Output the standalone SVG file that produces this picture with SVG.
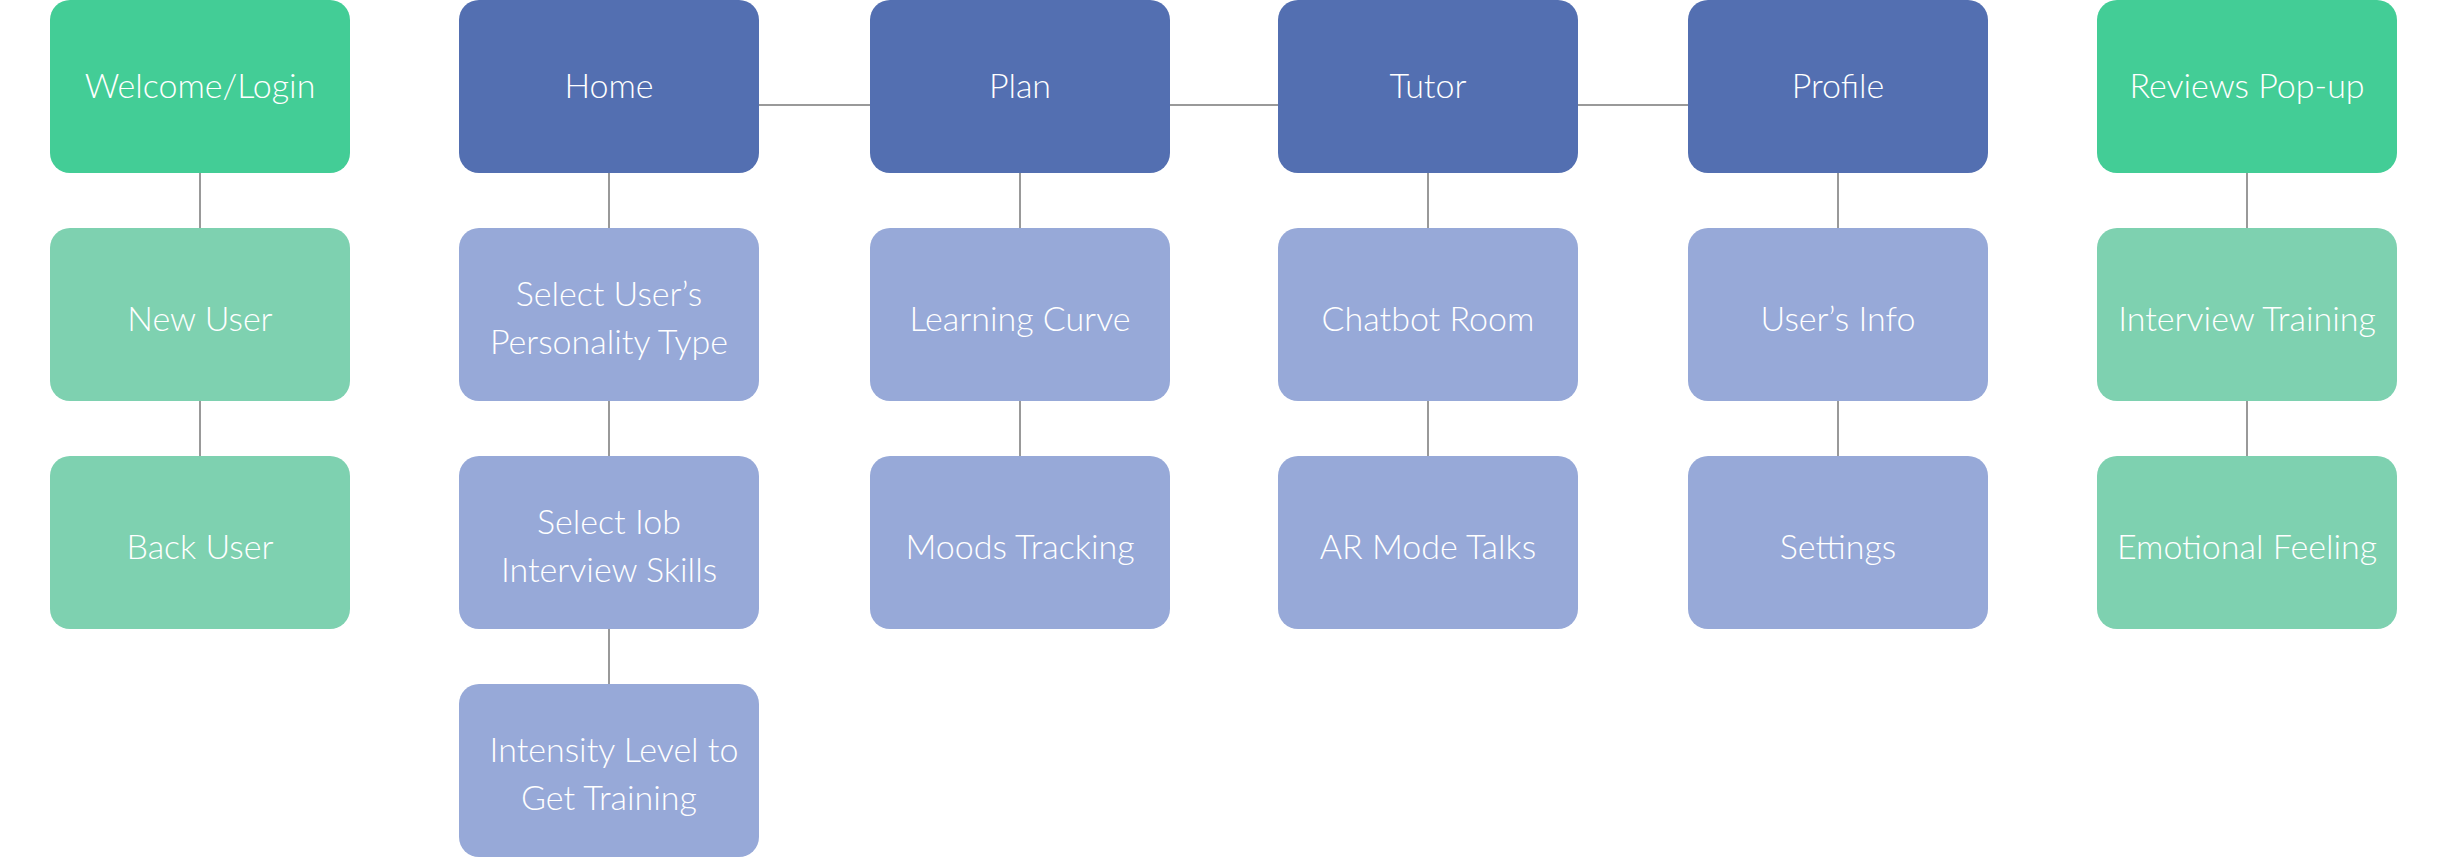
<svg xmlns="http://www.w3.org/2000/svg" width="2450" height="858" viewBox="0 0 2450 858">
<style>
.n rect{rx:20px;ry:20px}
.g1 rect{fill:#43CD96}
.g2 rect{fill:#7ED1B0}
.b1 rect{fill:#536FB1}
.b2 rect{fill:#97A9D8}
text{font-family:Lato,"Open Sans",sans-serif;font-size:34px;font-weight:300;fill:#ffffff;text-anchor:middle}
.c line{stroke:#999999;stroke-width:2}
</style>
<rect width="2450" height="858" fill="#ffffff"/>
<g class="c" id="connectors">
<line x1="759" y1="105" x2="870" y2="105"/>
<line x1="1170" y1="105" x2="1278" y2="105"/>
<line x1="1578" y1="105" x2="1688" y2="105"/>
<line x1="200" y1="173" x2="200" y2="228"/>
<line x1="200" y1="401" x2="200" y2="456"/>
<line x1="609" y1="173" x2="609" y2="228"/>
<line x1="609" y1="401" x2="609" y2="456"/>
<line x1="609" y1="629" x2="609" y2="684"/>
<line x1="1020" y1="173" x2="1020" y2="228"/>
<line x1="1020" y1="401" x2="1020" y2="456"/>
<line x1="1428" y1="173" x2="1428" y2="228"/>
<line x1="1428" y1="401" x2="1428" y2="456"/>
<line x1="1838" y1="173" x2="1838" y2="228"/>
<line x1="1838" y1="401" x2="1838" y2="456"/>
<line x1="2247" y1="173" x2="2247" y2="228"/>
<line x1="2247" y1="401" x2="2247" y2="456"/>
</g>
<g id="welcome" class="n g1"><rect x="50" y="0" width="300" height="173"/><text x="200" y="98">Welcome/Login</text></g>
<g id="newuser" class="n g2"><rect x="50" y="228" width="300" height="173"/><text x="200" y="331">New User</text></g>
<g id="backuser" class="n g2"><rect x="50" y="456" width="300" height="173"/><text x="200" y="559">Back User</text></g>
<g id="home" class="n b1"><rect x="459" y="0" width="300" height="173"/><text x="609" y="98">Home</text></g>
<g id="personality" class="n b2"><rect x="459" y="228" width="300" height="173"/><text x="609" y="306">Select User’s</text><text x="609" y="354">Personality Type</text></g>
<g id="jobskills" class="n b2"><rect x="459" y="456" width="300" height="173"/><text x="609" y="534">Select Iob</text><text x="609" y="582">Interview Skills</text></g>
<g id="intensity" class="n b2"><rect x="459" y="684" width="300" height="173"/><text x="614" y="762">Intensity Level to</text><text x="609" y="810">Get Training</text></g>
<g id="plan" class="n b1"><rect x="870" y="0" width="300" height="173"/><text x="1020" y="98">Plan</text></g>
<g id="learning" class="n b2"><rect x="870" y="228" width="300" height="173"/><text x="1020" y="331">Learning Curve</text></g>
<g id="moods" class="n b2"><rect x="870" y="456" width="300" height="173"/><text x="1020" y="559">Moods Tracking</text></g>
<g id="tutor" class="n b1"><rect x="1278" y="0" width="300" height="173"/><text x="1428" y="98">Tutor</text></g>
<g id="chatbot" class="n b2"><rect x="1278" y="228" width="300" height="173"/><text x="1428" y="331">Chatbot Room</text></g>
<g id="armode" class="n b2"><rect x="1278" y="456" width="300" height="173"/><text x="1428" y="559">AR Mode Talks</text></g>
<g id="profile" class="n b1"><rect x="1688" y="0" width="300" height="173"/><text x="1838" y="98">Profile</text></g>
<g id="userinfo" class="n b2"><rect x="1688" y="228" width="300" height="173"/><text x="1838" y="331">User’s Info</text></g>
<g id="settings" class="n b2"><rect x="1688" y="456" width="300" height="173"/><text x="1838" y="559">Settings</text></g>
<g id="reviews" class="n g1"><rect x="2097" y="0" width="300" height="173"/><text x="2247" y="98">Reviews Pop-up</text></g>
<g id="training" class="n g2"><rect x="2097" y="228" width="300" height="173"/><text x="2247" y="331">Interview Training</text></g>
<g id="emotional" class="n g2"><rect x="2097" y="456" width="300" height="173"/><text x="2247" y="559">Emotional Feeling</text></g>
</svg>
